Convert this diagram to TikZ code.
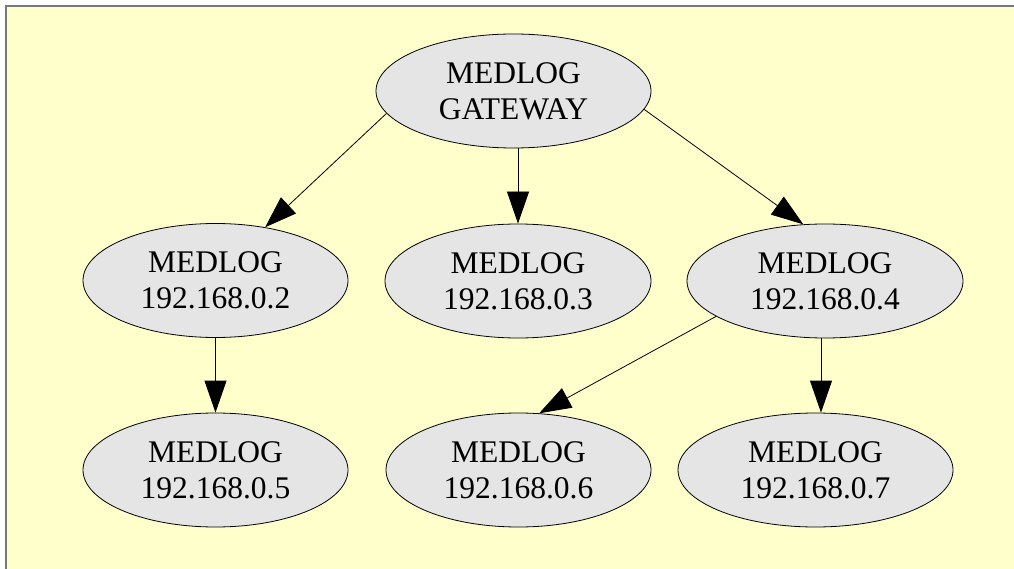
\documentclass[tikz,border=0pt]{standalone}
\usepackage{fontspec}
\setmainfont{Liberation Serif}
\usetikzlibrary{arrows.meta,shapes.geometric}
\definecolor{bgyellow}{RGB}{255,255,204}
\definecolor{nodefill}{RGB}{229,229,229}
\definecolor{framegray}{RGB}{120,120,120}
\tikzset{
  host/.style={ellipse, draw=black, line width=0.8pt, fill=nodefill, inner sep=0pt,
    minimum width=265pt, minimum height=114pt, align=center,
    font=\fontsize{31.5}{36}\selectfont},
  link/.style={draw=black, line width=0.8pt, -{Triangle[length=32pt,width=22pt]}},
}
\begin{document}
\begin{tikzpicture}[x=1pt,y=-1pt]
\useasboundingbox (0,0) rectangle (1014,569);
\fill[bgyellow] (7,7) rectangle (1014,569);
\draw[framegray, line width=1.7pt] (6,569) -- (6,6) -- (1014,6);

\node[host, minimum width=275pt] (gw) at (513.5,91) {MEDLOG\\GATEWAY};
\node[host] (n2) at (215.5,280.5) {MEDLOG\\192.168.0.2};
\node[host, minimum width=266pt] (n3) at (518,281) {MEDLOG\\192.168.0.3};
\node[host, minimum width=276pt] (n4) at (825,281) {MEDLOG\\192.168.0.4};
\node[host] (n5) at (215.5,470) {MEDLOG\\192.168.0.5};
\node[host] (n6) at (518.5,470) {MEDLOG\\192.168.0.6};
\node[host, minimum width=275pt] (n7) at (815.5,470) {MEDLOG\\192.168.0.7};

\draw[link] (gw.190) -- (n2.47);
\draw[link] (gw.south -| n3.north) -- (n3.north);
\draw[link] (gw.-8) -- (n4.111);
\draw[link] (n2.south) -- (n5.north);
\draw[link] (n4.198) -- (n6.70);
\draw[link] ([xshift=-4pt]n4.south) -- ([xshift=5.5pt]n7.north);
\end{tikzpicture}
\end{document}
